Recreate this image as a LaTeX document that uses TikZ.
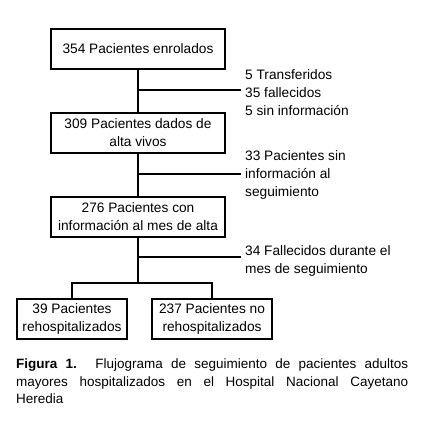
\documentclass[tikz,border=0pt]{standalone}
\usepackage{fontspec}
\setmainfont{Liberation Sans}
\begin{document}
\begin{tikzpicture}[x=1pt,y=1pt,
  box/.style={draw,line width=2pt,align=center,inner sep=0pt,minimum height=40pt,
    font=\fontsize{13.7}{18}\selectfont},
  side/.style={anchor=west,align=left,inner sep=0pt,font=\fontsize{13.7}{18}\selectfont},
  conn/.style={line width=2pt}]
\useasboundingbox (0,0) rectangle (439,-434);
\node[box,minimum width=174pt] (b1) at (138,-49) {354 Pacientes enrolados};
\node[box,minimum width=174pt] (b2) at (138,-133) {309 Pacientes dados de\\alta vivos};
\node[box,minimum width=174pt] (b3) at (138,-217) {276 Pacientes con\\información al mes de alta};
\node[box,minimum width=110pt] (b4) at (72,-319) {39 Pacientes\\rehospitalizados};
\node[box,minimum width=120pt] (b5) at (212,-319) {237 Pacientes no\\rehospitalizados};
\node[side] (t1) at (245,-93) {5 Transferidos\\35 fallecidos\\5 sin información};
\node[side] (t2) at (245,-175) {33 Pacientes sin\\información al\\seguimiento};
\node[side] (t3) at (245,-260.5) {34 Fallecidos durante el\\mes de seguimiento};
\coordinate (j1) at (138,-90);
\coordinate (j2) at (138,-174);
\coordinate (j3) at (138,-257);
\coordinate (s) at (138,-283);
\draw[conn] (b1.south) -- (b2.north);
\draw[conn] (j1) -- ([xshift=-4pt]t1.west |- j1);
\draw[conn] (b2.south) -- (b3.north);
\draw[conn] (j2) -- ([xshift=-4pt]t2.west |- j2);
\draw[conn] (b3.south) -- (s);
\draw[conn] (j3) -- ([xshift=-4pt]t3.west |- j3);
\draw[conn] (b4.north) -- (b4.north |- s) -- (b5.north |- s) -- (b5.north);
\node[anchor=north west,inner sep=0pt,text width=392pt,align=justify,
  font=\fontsize{13.5}{17.5}\selectfont] (cap) at (16,-359)
  {\textbf{Figura 1.} Flujograma de seguimiento de pacientes adultos\linebreak
   mayores hospitalizados en el Hospital Nacional Cayetano\linebreak Heredia};
\end{tikzpicture}
\end{document}
